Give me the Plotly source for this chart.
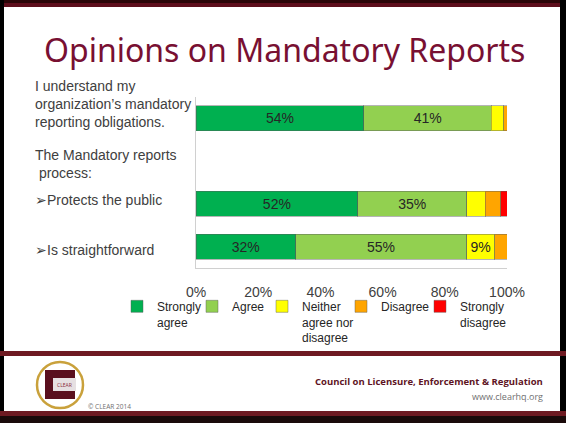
import plotly.graph_objects as go

categories = [
    "I understand my organization's mandatory reporting obligations.",
    "The Mandatory reports process:",
    "Protects the public",
    "Is straightforward",
]
category_labels = [
    "I understand my<br>organization\u2019s mandatory<br>reporting obligations.",
    "The Mandatory reports<br> process:",
    "\u27a2Protects the public",
    "\u27a2Is straightforward",
]
label_shift = [14, -3, 4, -3]

series_names = ["Strongly<br>agree", "Agree", "Neither<br>agree nor<br>disagree", "Disagree", "Strongly<br>disagree"]
strongly_agree = [54, None, 52, 32]
agree = [41, None, 35, 55]
neither = [4, None, 6, 9]
disagree = [1, None, 5, 4]
strongly_disagree = [0, None, 2, 0]
series_values = [strongly_agree, agree, neither, disagree, strongly_disagree]
series_colors = ["#00B050", "#92D050", "#FFFF00", "#FFA500", "#FF0000"]
legend_text_x = [155, 230, 300, 379, 458]

x_tickvals = [0, 20, 40, 60, 80, 100]
x_ticktext = ["0%", "20%", "40%", "60%", "80%", "100%"]

W, H = 566, 423
L, R, T, B = 196, 507, 97, 268
MAROON = "#781032"


def px(x):
    return (x - L) / (R - L)


def py(y):
    return 1 - (y - T) / (B - T)


fig = go.Figure()
legend_ids = ["legend", "legend2", "legend3", "legend4", "legend5"]
for name, vals, col, lid in zip(series_names, series_values, series_colors, legend_ids):
    fig.add_trace(go.Bar(
        y=categories, x=vals, name=name, orientation="h", legend=lid,
        marker=dict(color=col, line=dict(color="rgba(90,90,90,0.45)", width=1)),
        text=[f"{v}%" if (v is not None and v >= 9) else "" for v in vals],
        textposition="inside", insidetextanchor="middle", textangle=0,
        textfont=dict(family="Liberation Sans, Arial", size=14, color="#262626"),
        hoverinfo="skip",
    ))

shapes = []
# slide frame
shapes.append(dict(type="rect", xref="paper", yref="paper", x0=px(0), x1=px(W), y0=py(0), y1=py(7),
                   fillcolor="#5E0E1C", line=dict(width=0), layer="above"))
shapes.append(dict(type="rect", xref="paper", yref="paper", x0=px(0), x1=px(W), y0=py(0), y1=py(3),
                   fillcolor="#2A0508", line=dict(width=0), layer="above"))
shapes.append(dict(type="rect", xref="paper", yref="paper", x0=px(0), x1=px(4), y0=py(0), y1=py(H),
                   fillcolor="#000000", line=dict(width=0), layer="above"))
shapes.append(dict(type="rect", xref="paper", yref="paper", x0=px(560), x1=px(W), y0=py(0), y1=py(H),
                   fillcolor="#000000", line=dict(width=0), layer="above"))
shapes.append(dict(type="rect", xref="paper", yref="paper", x0=px(0), x1=px(W), y0=py(351), y1=py(356),
                   fillcolor="#6E1A22", line=dict(width=0), layer="above"))
shapes.append(dict(type="rect", xref="paper", yref="paper", x0=px(0), x1=px(W), y0=py(411), y1=py(416),
                   fillcolor="#6E1A22", line=dict(width=0), layer="above"))
shapes.append(dict(type="rect", xref="paper", yref="paper", x0=px(0), x1=px(W), y0=py(416), y1=py(H),
                   fillcolor="#1A0A0A", line=dict(width=0), layer="above"))
# logo
shapes.append(dict(type="circle", xref="paper", yref="paper", x0=px(37), x1=px(83), y0=py(362), y1=py(408),
                   fillcolor="#FFFFFF", line=dict(color="#C9A13B", width=2.5)))
shapes.append(dict(type="rect", xref="paper", yref="paper", x0=px(45), x1=px(75), y0=py(370), y1=py(399),
                   fillcolor="#5A0F1E", line=dict(width=0)))
shapes.append(dict(type="rect", xref="paper", yref="paper", x0=px(53), x1=px(76), y0=py(378), y1=py(391),
                   fillcolor="#E6E0E2", line=dict(width=0)))

annotations = []
for cat, lab, sh in zip(categories, category_labels, label_shift):
    annotations.append(dict(
        x=px(33), xref="paper", y=cat, yref="y", yshift=sh,
        text=lab, showarrow=False, xanchor="left", yanchor="middle", align="left",
        font=dict(family="Liberation Sans, Arial", size=14, color="#404040"),
    ))
annotations.append(dict(
    x=px(284), xref="paper", y=py(50), yref="paper", text="Opinions on Mandatory Reports",
    showarrow=False, xanchor="center", yanchor="middle",
    font=dict(family="Noto Sans", size=32, color=MAROON),
))
annotations.append(dict(
    x=px(545), xref="paper", y=py(381), yref="paper",
    text="<b>Council on Licensure, Enforcement &amp; Regulation</b>",
    showarrow=False, xanchor="right", yanchor="middle",
    font=dict(family="Open Sans", size=9.5, color="#5E1424"),
))
annotations.append(dict(
    x=px(545), xref="paper", y=py(396), yref="paper", text="www.clearhq.org",
    showarrow=False, xanchor="right", yanchor="middle",
    font=dict(family="Open Sans", size=9, color="#707070"),
))
annotations.append(dict(
    x=px(86), xref="paper", y=py(406), yref="paper", text="\u00a9 CLEAR 2014",
    showarrow=False, xanchor="left", yanchor="middle",
    font=dict(family="Open Sans", size=6.5, color="#707070"),
))
annotations.append(dict(
    x=px(64), xref="paper", y=py(384.5), yref="paper", text="CLEAR",
    showarrow=False, xanchor="center", yanchor="middle",
    font=dict(family="Open Sans", size=5, color="#8A2A3A"),
))

legend_layouts = {}
for lid, tx in zip(legend_ids, legend_text_x):
    legend_layouts[lid] = dict(
        orientation="v", x=px(tx - 38), xanchor="left", y=py(292), yanchor="top",
        font=dict(family="Liberation Sans, Arial", size=12, color="#262626"),
        valign="top", itemclick=False, itemdoubleclick=False,
        bgcolor="rgba(0,0,0,0)", borderwidth=0,
    )

fig.update_layout(
    width=W, height=H,
    margin=dict(l=L, r=W - R, t=T, b=H - B, pad=0),
    paper_bgcolor="#FFFFFF", plot_bgcolor="#FFFFFF",
    barmode="stack", bargap=0.42,
    showlegend=True,
    xaxis=dict(
        range=[0, 100], tickvals=x_tickvals, ticktext=x_ticktext, showgrid=False,
        zeroline=False, showline=True, linecolor="#D0D0D0", linewidth=1,
        ticks="", ticklabelstandoff=11,
        tickfont=dict(family="Liberation Sans, Arial", size=14, color="#404040"),
        fixedrange=True,
    ),
    yaxis=dict(
        categoryorder="array", categoryarray=categories, autorange="reversed",
        showticklabels=False, showgrid=False, zeroline=False, showline=True,
        linecolor="#D0D0D0", linewidth=1, ticks="", fixedrange=True,
    ),
    shapes=shapes, annotations=annotations,
    **legend_layouts,
)

fig.write_html("out.html")
